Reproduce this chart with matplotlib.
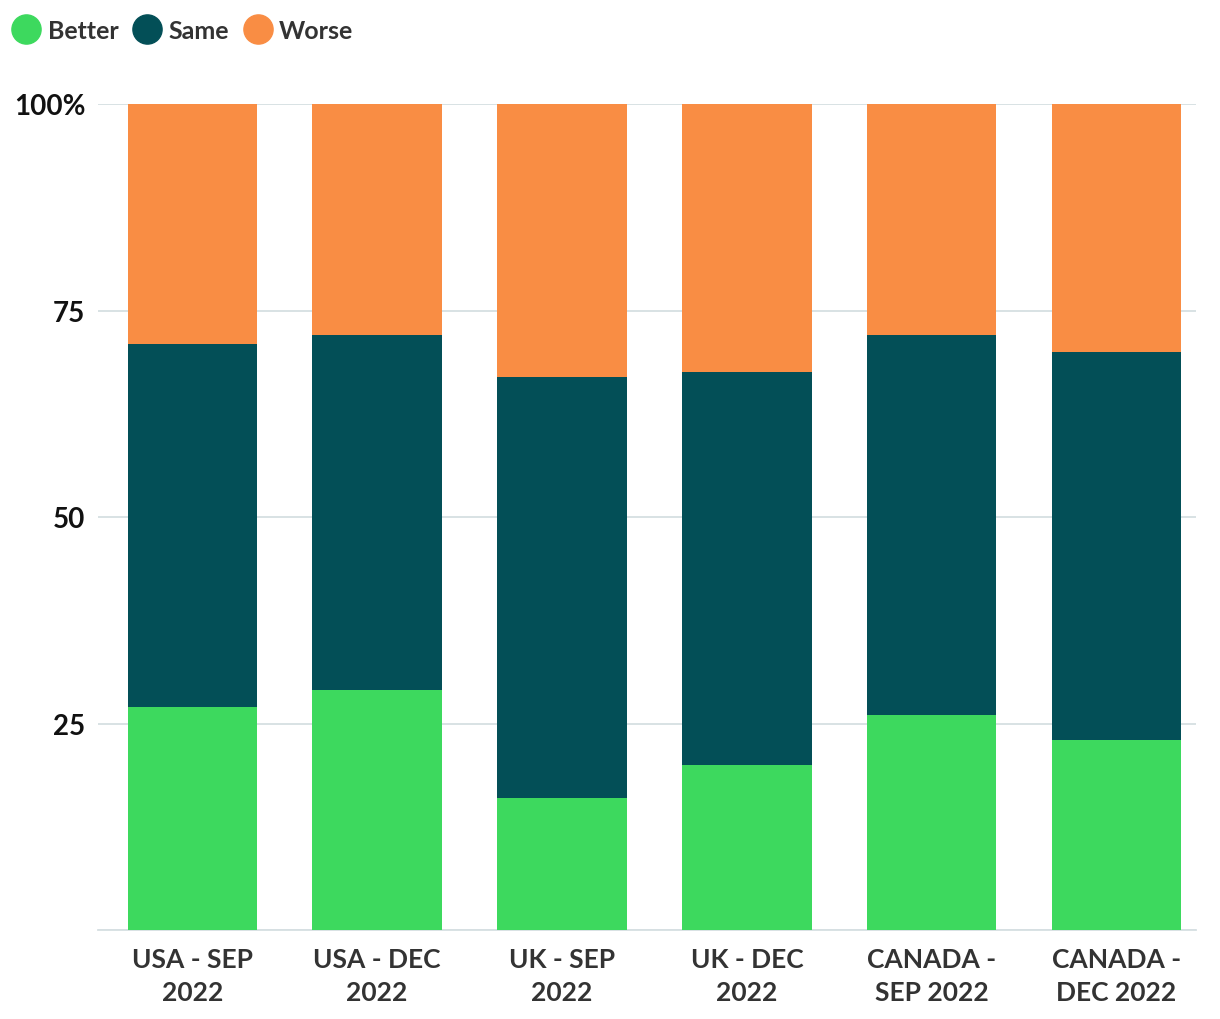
import numpy as np
import matplotlib.pyplot as plt
from matplotlib.lines import Line2D

# data
categories = ["USA - SEP\n2022", "USA - DEC\n2022", "UK - SEP\n2022",
              "UK - DEC\n2022", "CANADA -\nSEP 2022", "CANADA -\nDEC 2022"]
better = [27, 29, 16, 20, 26, 23]
same = [44, 43, 51, 47.6, 46, 47]
worse = [29, 28, 33, 32.4, 28, 30]

series_names = ["Better", "Same", "Worse"]
colors = ["#3dd95e", "#034f57", "#f98d44"]

plt.rcParams["font.family"] = ["Lato", "DejaVu Sans"]

fig = plt.figure(figsize=(12.2, 10.2), dpi=100)
ax = fig.add_axes([98 / 1220, 1 - 931 / 1020, (1196 - 98) / 1220, (931 - 105) / 1020])

x = np.arange(len(categories))
bottom = np.zeros(len(categories))
for vals, name, col in zip([better, same, worse], series_names, colors):
    ax.bar(x, vals, bottom=bottom, width=0.70, color=col, label=name, zorder=3)
    bottom += np.array(vals)

ax.set_ylim(0, 100)
ax.set_xlim(-0.51, 5.43)
ax.set_yticks([0, 25, 50, 75, 100])
ax.set_yticklabels(["", "25", "50", "75", "100%"], fontsize=20, fontweight="bold", color="#111111")
ax.set_xticks(x)
ax.set_xticklabels(categories, fontsize=19, fontweight="bold", color="#333333", linespacing=1.45)
ax.tick_params(axis="both", length=0)
ax.tick_params(axis="y", pad=9)
ax.tick_params(axis="x", pad=12)
ax.grid(axis="y", color="#d6dfe2", linewidth=1.3, zorder=0)
for s in ["top", "right", "left"]:
    ax.spines[s].set_visible(False)
ax.spines["bottom"].set_color("#d6dfe2")
ax.spines["bottom"].set_linewidth(1.3)

handles = [Line2D([0], [0], marker="o", linestyle="", markersize=21,
                  markerfacecolor=c, markeredgecolor=c) for c in colors]
fig.legend(handles, series_names, loc="upper left", bbox_to_anchor=(0.0, 0.995),
           ncol=3, frameon=False, handlelength=0.9, handletextpad=0.4,
           columnspacing=0.7, borderaxespad=0.3, borderpad=0.3,
           prop={"size": 18, "weight": "bold"}, labelcolor="#333333")

fig.savefig("out.png", dpi=100)
